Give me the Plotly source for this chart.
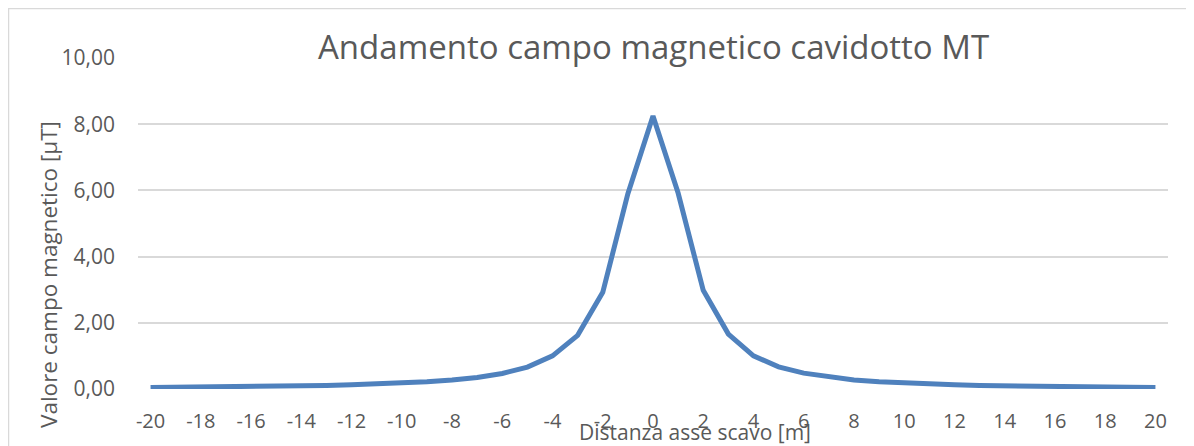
import plotly.graph_objects as go

distanza = list(range(-20, 21))
campo = [0.045, 0.05, 0.055, 0.06, 0.07, 0.08, 0.09, 0.105, 0.125, 0.15,
         0.18, 0.22, 0.27, 0.35, 0.47, 0.66, 1.00, 1.62, 2.92, 5.90,
         8.25,
         5.92, 2.98, 1.66, 1.00, 0.67, 0.48, 0.36, 0.27, 0.22, 0.18,
         0.15, 0.125, 0.105, 0.09, 0.08, 0.07, 0.06, 0.055, 0.05, 0.045]
x_ticks = list(range(-20, 21, 2))
x_ticklabels = [str(v) for v in x_ticks]
y_ticks = [0, 2, 4, 6, 8, 10]

title_text = "Andamento campo magnetico cavidotto MT"
y_title = "Valore campo magnetico [µT]"
x_title = "Distanza asse scavo [m]"

FONT = "Open Sans"
GRAY = "#595959"

fig = go.Figure()
fig.add_trace(go.Scatter(x=distanza, y=campo, mode="lines",
                         line=dict(color="#4F81BD", width=5),
                         hoverinfo="x+y", showlegend=False))

OFF = 8  # page body margin
W, H = 1194 - OFF, 446 - OFF
L, R, T, B = 130, 26, 50, 57
pw, ph = W - L - R, H - T - B

def px(x):
    return (x - OFF - L) / pw

def py(y):
    return (H - B - (y - OFF)) / ph

fig.update_layout(
    width=W, height=H,
    margin=dict(l=L, r=R, t=T, b=B),
    paper_bgcolor="white", plot_bgcolor="white",
    separators=",.",
    font=dict(family=FONT, color=GRAY, size=20),
    xaxis=dict(range=[-20.5, 20.5], tickvals=x_ticks, ticktext=x_ticklabels,
               showgrid=False, zeroline=False, showline=False, ticks="",
               tickfont=dict(size=20, color=GRAY), ticklabelstandoff=18),
    yaxis=dict(range=[0, 10], tickvals=y_ticks, tickformat=".2f",
               showgrid=True, gridcolor="#D9D9D9", gridwidth=1.6,
               zeroline=False, showline=False, ticks="",
               tickfont=dict(size=21, color=GRAY), ticklabelstandoff=22),
    annotations=[
        dict(text=title_text, xref="paper", yref="paper",
             x=px(653), y=py(46), xanchor="center", yanchor="middle",
             showarrow=False, font=dict(size=33, color=GRAY, family=FONT)),
        dict(text=y_title, xref="paper", yref="paper", textangle=-90,
             x=px(48), y=py(275), xanchor="center", yanchor="middle",
             showarrow=False, font=dict(size=22.5, color=GRAY, family=FONT)),
        dict(text=x_title, xref="paper", yref="paper",
             x=px(695), y=py(432), xanchor="center", yanchor="middle",
             showarrow=False, font=dict(size=21, color=GRAY, family=FONT)),
    ],
    shapes=[dict(type="rect", xref="paper", yref="paper",
                 x0=px(8.5), x1=px(1230), y0=py(480), y1=py(8.5),
                 line=dict(color="#D9D9D9", width=1.5), layer="below")],
)

fig.write_html("out.html")
